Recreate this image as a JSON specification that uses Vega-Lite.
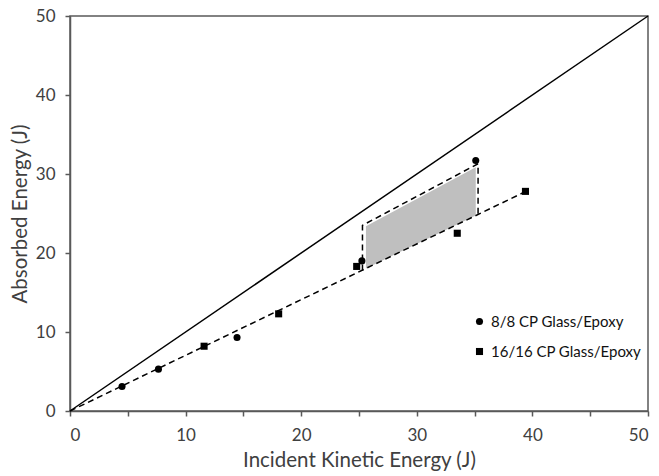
{
  "$schema": "https://vega.github.io/schema/vega-lite/v6.json",
  "width": 578,
  "height": 395,
  "autosize": {"type": "none"},
  "padding": {"left": 70, "top": 16, "right": 11, "bottom": 65},
  "background": "white",
  "config": {
    "font": "Lato",
    "view": {"stroke": "#595959", "strokeWidth": 1.5},
    "axis": {
      "grid": false,
      "domainColor": "#595959",
      "domainWidth": 1.5,
      "tickColor": "#595959",
      "tickWidth": 1.5,
      "tickSize": 5,
      "labelFont": "Lato",
      "labelFontSize": 17,
      "labelColor": "#404040",
      "titleFont": "Lato",
      "titleFontSize": 20.5,
      "titleFontWeight": "normal",
      "titleColor": "#404040"
    }
  },
  "datasets": {
    "diag": [{"x": 0, "y": 0}, {"x": 50, "y": 50}],
    "trend": [{"x": 0, "y": 0}, {"x": 39.3, "y": 27.7}],
    "band": [
      {"x": 25.6, "y": 18.05, "y2": 23.4},
      {"x": 35.1, "y": 24.75, "y2": 30.85}
    ],
    "outline": [
      {"k": 1, "x": 25.3, "y": 17.8},
      {"k": 2, "x": 25.3, "y": 23.5},
      {"k": 3, "x": 35.3, "y": 31.3},
      {"k": 4, "x": 35.3, "y": 24.9}
    ],
    "pts": [
      {"s": "8/8 CP Glass/Epoxy", "x": 4.5, "y": 3.1},
      {"s": "8/8 CP Glass/Epoxy", "x": 7.65, "y": 5.3},
      {"s": "8/8 CP Glass/Epoxy", "x": 14.45, "y": 9.3},
      {"s": "8/8 CP Glass/Epoxy", "x": 25.25, "y": 19.0},
      {"s": "8/8 CP Glass/Epoxy", "x": 35.1, "y": 31.7},
      {"s": "16/16 CP Glass/Epoxy", "x": 11.6, "y": 8.2},
      {"s": "16/16 CP Glass/Epoxy", "x": 18.05, "y": 12.3},
      {"s": "16/16 CP Glass/Epoxy", "x": 24.8, "y": 18.3},
      {"s": "16/16 CP Glass/Epoxy", "x": 33.5, "y": 22.5},
      {"s": "16/16 CP Glass/Epoxy", "x": 39.4, "y": 27.8}
    ]
  },
  "layer": [
    {
      "data": {"name": "band"},
      "mark": {"type": "area", "color": "#bfbfbf", "opacity": 1},
      "encoding": {
        "x": {
          "field": "x", "type": "quantitative",
          "scale": {"domain": [0, 50], "nice": false, "zero": false},
          "title": "Incident Kinetic Energy (J)",
          "axis": {
            "values": [0, 5, 10, 15, 20, 25, 30, 35, 40, 45, 50],
            "labelExpr": "datum.value % 10 === 0 ? datum.label : ''",
            "labelPadding": 11,
            "titlePadding": 7
          }
        },
        "y": {
          "field": "y", "type": "quantitative",
          "scale": {"domain": [0, 50], "nice": false, "zero": false},
          "title": "Absorbed Energy (J)",
          "axis": {
            "values": [0, 5, 10, 15, 20, 25, 30, 35, 40, 45, 50],
            "labelExpr": "datum.value % 10 === 0 ? datum.label : ''",
            "labelPadding": 10,
            "titlePadding": 5
          }
        },
        "y2": {"field": "y2"}
      }
    },
    {
      "data": {"name": "diag"},
      "mark": {"type": "line", "color": "black", "strokeWidth": 1.5},
      "encoding": {
        "x": {"field": "x", "type": "quantitative", "title": "Incident Kinetic Energy (J)"},
        "y": {"field": "y", "type": "quantitative", "title": "Absorbed Energy (J)"}
      }
    },
    {
      "data": {"name": "trend"},
      "mark": {"type": "line", "color": "black", "strokeWidth": 1.5, "strokeDash": [6, 4]},
      "encoding": {
        "x": {"field": "x", "type": "quantitative", "title": "Incident Kinetic Energy (J)"},
        "y": {"field": "y", "type": "quantitative", "title": "Absorbed Energy (J)"}
      }
    },
    {
      "data": {"name": "outline"},
      "mark": {"type": "line", "color": "black", "strokeWidth": 1.5, "strokeDash": [6, 4]},
      "encoding": {
        "x": {"field": "x", "type": "quantitative", "title": "Incident Kinetic Energy (J)"},
        "y": {"field": "y", "type": "quantitative", "title": "Absorbed Energy (J)"},
        "order": {"field": "k"}
      }
    },
    {
      "data": {"name": "pts"},
      "mark": {"type": "point", "filled": true, "color": "black", "opacity": 1, "size": 50},
      "encoding": {
        "x": {"field": "x", "type": "quantitative", "title": "Incident Kinetic Energy (J)"},
        "y": {"field": "y", "type": "quantitative", "title": "Absorbed Energy (J)"},
        "shape": {
          "field": "s", "type": "nominal",
          "scale": {"domain": ["8/8 CP Glass/Epoxy", "16/16 CP Glass/Epoxy"], "range": ["circle", "square"]},
          "legend": {
            "title": null,
            "orient": "none",
            "legendX": 402,
            "legendY": 298,
            "padding": 0,
            "symbolSize": 50,
            "symbolFillColor": "black",
            "symbolStrokeColor": "black",
            "symbolStrokeWidth": 0,
            "labelFont": "Lato",
            "labelFontSize": 15,
            "labelColor": "#111111",
            "labelOffset": 4,
            "labelLimit": 400,
            "rowPadding": 14
          }
        }
      }
    }
  ]
}
